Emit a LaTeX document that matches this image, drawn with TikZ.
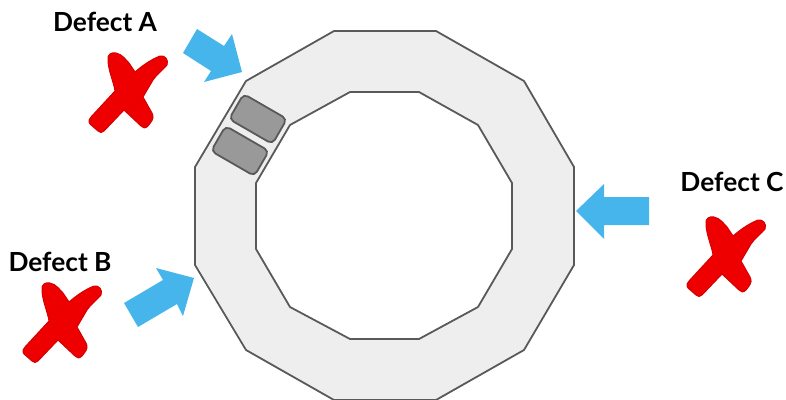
\documentclass[tikz,border=0pt]{standalone}
\usepackage{fontspec}
\setmainfont{Lato}[BoldFont=Lato Bold]
\definecolor{ringfill}{HTML}{EEEEEE}
\definecolor{ringline}{HTML}{595959}
\definecolor{blockfill}{HTML}{999999}
\definecolor{arrowblue}{HTML}{46B5EC}
\definecolor{crossred}{HTML}{EE0000}
\tikzset{
  defectlabel/.style={font=\bfseries\fontsize{26.3}{30}\selectfont,text=black,inner sep=0pt},
  ringshape/.style={draw=ringline,line width=1.8pt,fill=ringfill,even odd rule,line join=round},
  blockshape/.style={draw=ringline,line width=1.8pt,fill=blockfill,rotate=-30,
    minimum width=50pt,minimum height=29pt,rounded corners=5pt,inner sep=0pt},
  pointer/.style={fill=arrowblue},
  crossmark/.pic={
    \fill[crossred,draw=crossred!90!black,line width=1pt,line join=round]
      (108,60) .. controls (107,54) and (112,52) .. (116,53)
      .. controls (122,54) and (126,60) .. (129,63)
      -- (135,72)
      .. controls (142,66) and (150,60) .. (160,56)
      .. controls (165,55) and (169,60) .. (167,65)
      .. controls (163,70) and (157,74) .. (153,80)
      -- (143,97) -- (152,113)
      .. controls (154,117) and (153,119) .. (151,122)
      -- (148,126) .. controls (145,129) and (143,128) .. (141,126)
      -- (124,110) -- (104,131)
      .. controls (102,133) and (100,133) .. (98,131)
      -- (90,124) .. controls (88,121) and (89,119) .. (91,117)
      -- (115,91) .. controls (114,83) and (108,70) .. (108,60) -- cycle;
  }
}
\begin{document}
\begin{tikzpicture}[x=1pt,y=-1pt]
  \useasboundingbox (0,0) rectangle (786,399);
  % Ring
  \path[ringshape]
    (334,31) -- (436,31) -- (524,81) -- (574,167) -- (574,265) -- (524,350)
    -- (436,400) -- (334,400) -- (246,350) -- (195,265) -- (195,167) -- (246,81) -- cycle
    (350,92) -- (419,92) -- (478,125) -- (512,183) -- (512,249) -- (478,307)
    -- (419,339) -- (350,339) -- (290,307) -- (256,249) -- (256,183) -- (290,125) -- cycle;
  % Blocks
  \node[blockshape] (blockone) at (258,119) {};
  \node[blockshape] (blocktwo) at (240,151) {};
  % Arrows
  \fill[pointer] (197,29) -- (224,46) -- (232,34) -- (242,72) -- (204,82) -- (211,71) -- (183,53) -- cycle;
  \fill[pointer] (124,303) -- (163,280) -- (156,268) -- (194,278) -- (183,316) -- (177,304) -- (138,327) -- cycle;
  \fill[pointer] (576,211) -- (604,184) -- (604,197) -- (649,197) -- (649,225) -- (604,225) -- (604,239) -- cycle;
  % Labels and crosses
  \node[defectlabel] (labela) at (105,22) {Defect A};
  \node[defectlabel] (labelb) at (60,262) {Defect B};
  \node[defectlabel] (labelc) at (732,182) {Defect C};
  \pic at (0,0) {crossmark};
  \pic at (-66,230) {crossmark};
  \pic at (598,164) {crossmark};
\end{tikzpicture}
\end{document}
